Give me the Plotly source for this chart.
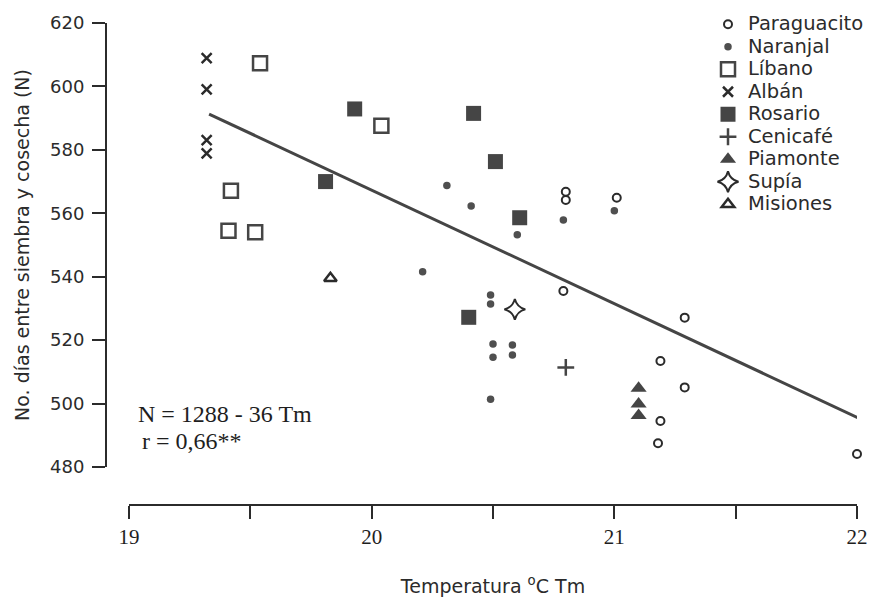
import plotly.graph_objects as go

# ---- data ----
paraguacito_x = [20.80, 20.80, 21.01, 20.79, 21.19, 21.19, 21.18, 21.29, 21.29, 22.00]
paraguacito_y = [566.8, 564.2, 564.9, 535.5, 513.4, 494.5, 487.5, 527.1, 505.1, 484.1]

naranjal_x = [20.31, 20.41, 20.60, 20.79, 21.00, 20.21, 20.49, 20.49, 20.50, 20.50, 20.58, 20.58, 20.49]
naranjal_y = [568.8, 562.3, 553.2, 557.9, 560.8, 541.6, 534.2, 531.4, 518.8, 514.6, 518.5, 515.3, 501.4]

libano_x = [19.54, 20.04, 19.42, 19.41, 19.52]
libano_y = [607.3, 587.6, 567.1, 554.5, 554.0]

alban_x = [19.32, 19.32, 19.32, 19.32]
alban_y = [608.9, 599.1, 583.1, 578.9]

rosario_x = [19.83, 19.93, 19.81, 20.42, 20.51, 20.61, 20.40]
rosario_y = [623.2, 592.9, 570.0, 591.5, 576.3, 558.6, 527.2]

cenicafe_x = [20.80]
cenicafe_y = [511.4]

piamonte_x = [21.10, 21.10, 21.10]
piamonte_y = [504.8, 499.9, 496.2]

supia_x = [20.59]
supia_y = [529.7]

misiones_x = [19.83]
misiones_y = [539.5]

reg_x = [19.33, 22.03]
reg_y = [591.3, 494.6]

x_tickvals = [19, 20, 21, 22]
x_ticktext = ["19", "20", "21", "22"]
y_tickvals = [480, 500, 520, 540, 560, 580, 600, 620]

W, H = 875, 602
INK = "#2b2b2b"
GREY = "#454545"
SANS = "DejaVu Sans"
SERIF = "Liberation Serif"


def lg(name):
    return '<span style="font-size:19.5px">' + name + "</span>"


fig = go.Figure()

fig.add_trace(go.Scatter(x=reg_x, y=reg_y, mode="lines", showlegend=False,
                         line=dict(color=GREY, width=3), hoverinfo="skip"))

series = [
    ("Paraguacito", paraguacito_x, paraguacito_y, dict(symbol="circle-open", size=8, color=INK, line=dict(width=2, color=INK))),
    ("Naranjal", naranjal_x, naranjal_y, dict(symbol="circle", size=7.5, color="#4f4f4f", line=dict(width=0))),
    ("Líbano", libano_x, libano_y, dict(symbol="square-open", size=14, color=GREY, line=dict(width=2.5, color=GREY))),
    ("Albán", alban_x, alban_y, dict(symbol="x-thin-open", size=10, color=INK, line=dict(width=2.5, color=INK))),
    ("Rosario", rosario_x, rosario_y, dict(symbol="square", size=15, color=GREY, line=dict(width=0))),
    ("Cenicafé", cenicafe_x, cenicafe_y, dict(symbol="cross-thin-open", size=12, color=GREY, line=dict(width=2.5, color=GREY))),
    ("Piamonte", piamonte_x, piamonte_y, dict(symbol="triangle-up", size=14, color=GREY, line=dict(width=0))),
    ("Supía", supia_x, supia_y, dict(symbol="star-diamond-open", size=15, color=INK, line=dict(width=2, color=INK))),
    ("Misiones", misiones_x, misiones_y, dict(symbol="triangle-up-open", size=11, color=INK, line=dict(width=2.5, color=INK))),
]
for name, xs, ys, mk in series:
    fig.add_trace(go.Scatter(x=xs, y=ys, mode="markers", name=lg(name), marker=mk,
                             cliponaxis=False))

# pixel geometry of the reference axes
x0_px, x1_px = 129, 857        # x = 19 .. 22
y_top_px, y_bot_px = 23, 467   # y = 620 .. 480
xaxis_line_px = 505
yaxis_line_px = 106

fig.update_layout(
    width=W, height=H,
    margin=dict(l=0, r=0, t=0, b=0),
    paper_bgcolor="white", plot_bgcolor="white",
    font=dict(family=SANS, color=INK),
    xaxis=dict(
        range=[19, 22], domain=[x0_px / W, x1_px / W],
        anchor="free", position=1 - xaxis_line_px / H,
        showgrid=False, zeroline=False,
        showline=True, linecolor=INK, linewidth=2,
        ticks="outside", ticklen=13, tickwidth=2, tickcolor=INK,
        tickvals=x_tickvals, ticktext=x_ticktext,
        minor=dict(dtick=0.5, tick0=19, ticks="outside", ticklen=13, tickwidth=2,
                   tickcolor=INK, showgrid=False),
        tickfont=dict(family=SERIF, size=21, color="#1e1e1e"),
        ticklabelstandoff=0,
        title=dict(text="Temperatura <sup>o</sup>C Tm", font=dict(family=SANS, size=19, color=INK), standoff=30),
        automargin=False,
    ),
    yaxis=dict(
        range=[480, 620], domain=[1 - y_bot_px / H, 1 - y_top_px / H],
        anchor="free", position=yaxis_line_px / W,
        showgrid=False, zeroline=False,
        showline=True, linecolor=INK, linewidth=2,
        ticks="outside", ticklen=13, tickwidth=2, tickcolor=INK,
        tickvals=y_tickvals,
        tickfont=dict(family=SANS, size=18, color=INK),
        ticklabelstandoff=4,
        title=dict(text="No. días entre siembra y cosecha (N)\u00a0\u00a0\u00a0",
                   font=dict(family=SANS, size=19, color=INK), standoff=14),
        automargin=False,
    ),
    legend=dict(
        x=708 / W, y=1 - 8 / H, xanchor="left", yanchor="top",
        font=dict(family=SANS, size=15, color=INK),
        itemwidth=30, tracegroupgap=0, bgcolor="rgba(0,0,0,0)",
    ),
    showlegend=True,
)

fig.add_annotation(text="N = 1288 - 36 Tm", xref="paper", yref="paper",
                   x=136 / W, y=1 - 414 / H, xanchor="left", yanchor="middle",
                   showarrow=False, font=dict(family=SERIF, size=24, color="#1e1e1e"))
fig.add_annotation(text="r = 0,66**", xref="paper", yref="paper",
                   x=140 / W, y=1 - 441 / H, xanchor="left", yanchor="middle",
                   showarrow=False, font=dict(family=SERIF, size=24, color="#1e1e1e"))

fig.write_html("out.html", config={"displayModeBar": False},
               post_script="document.body.style.margin='0px';")
